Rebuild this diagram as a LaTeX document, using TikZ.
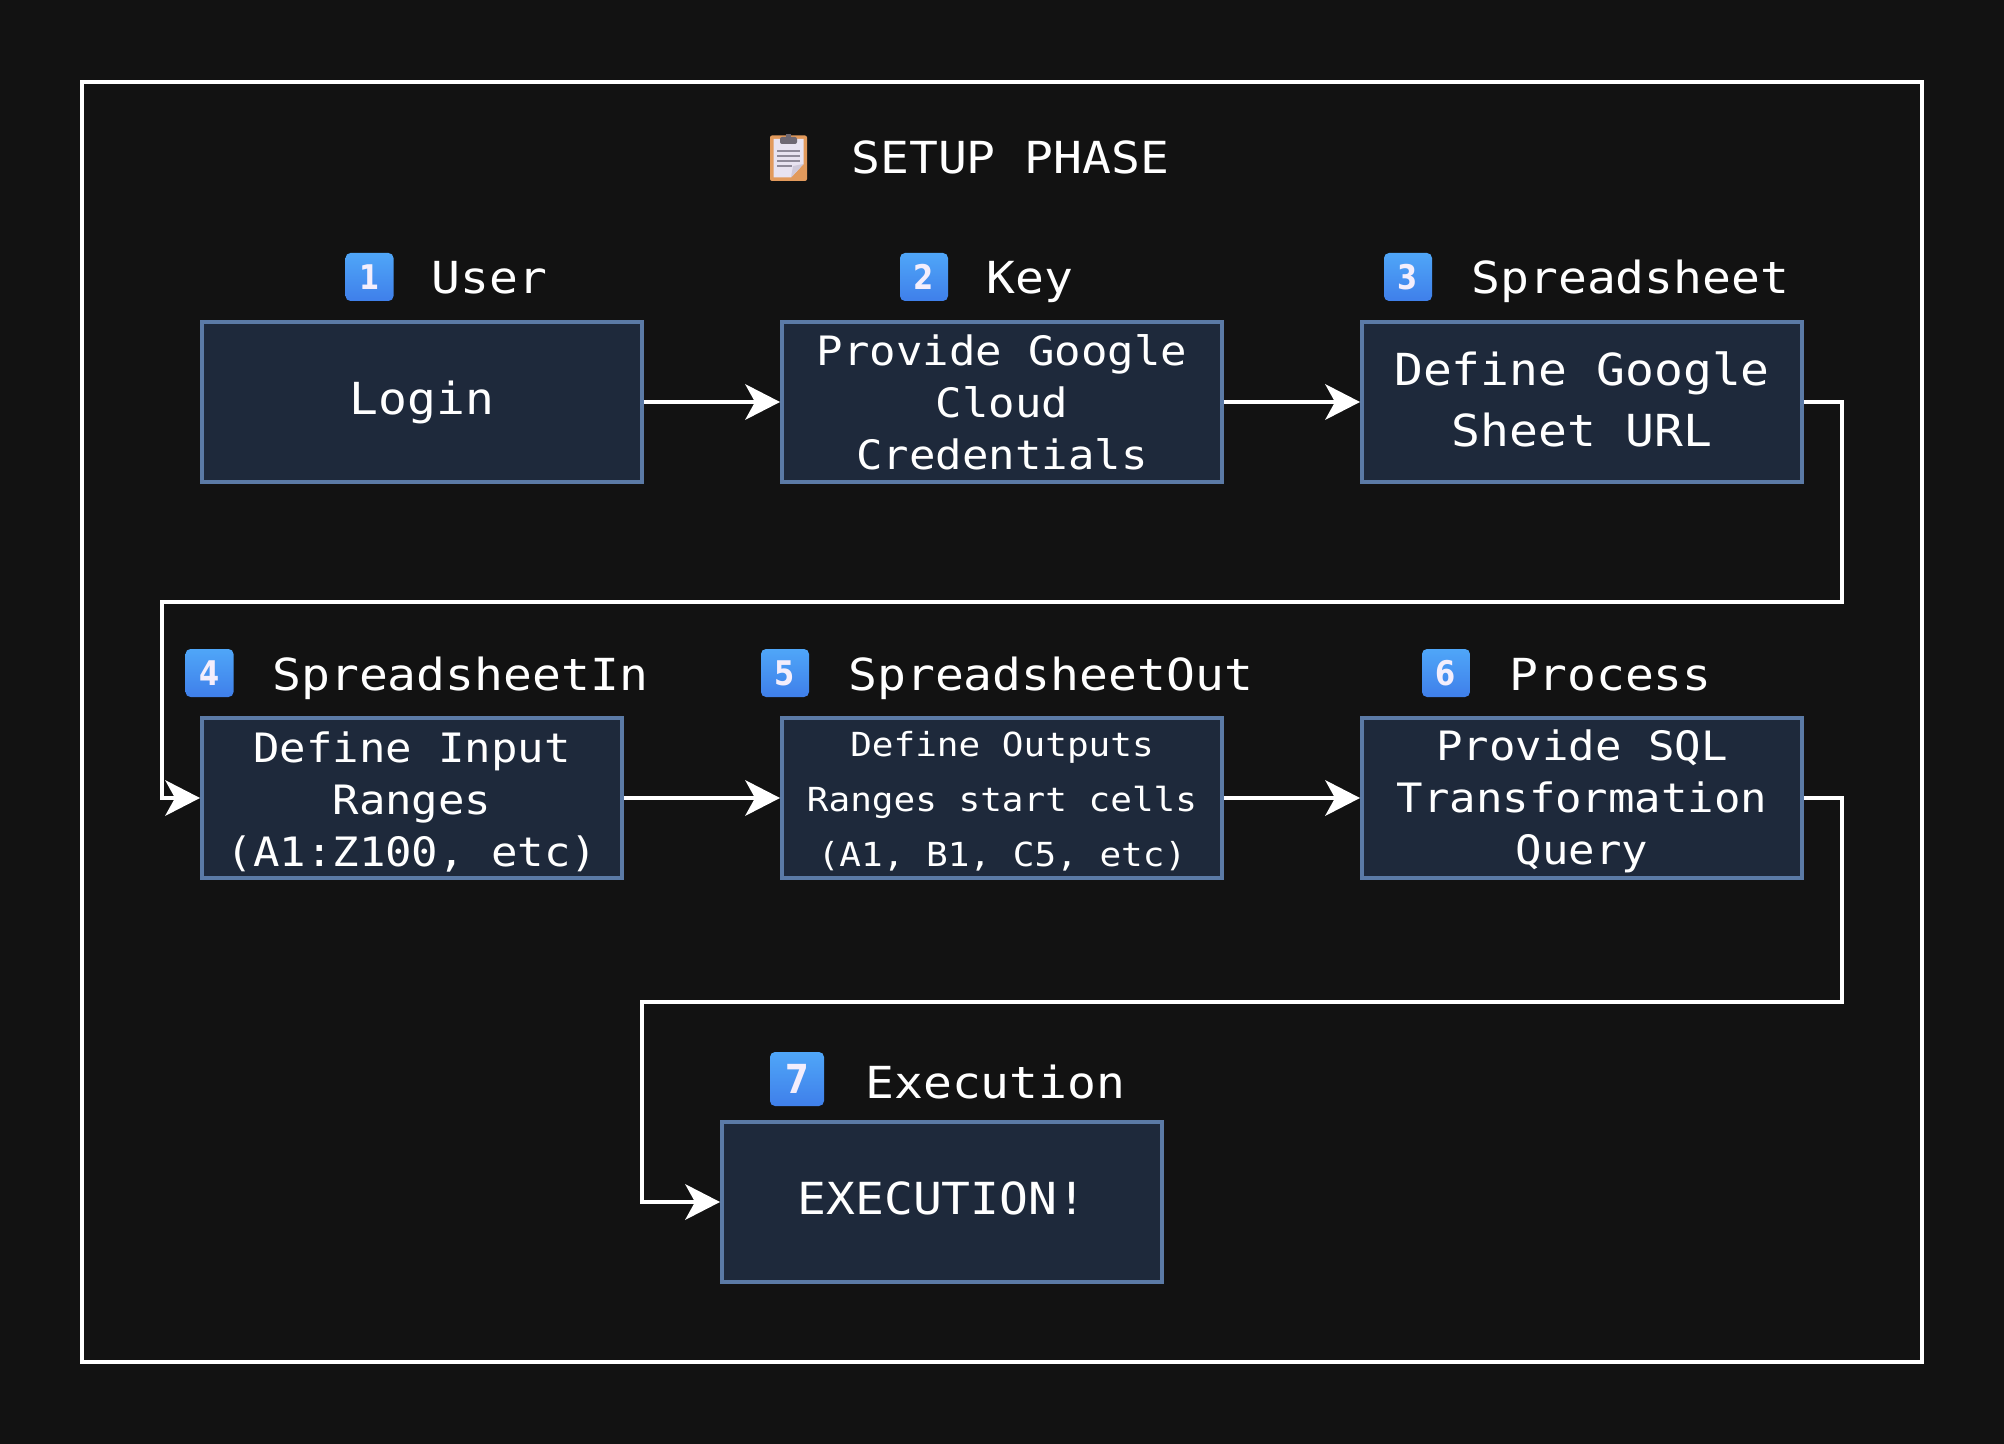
\documentclass[tikz,border=0pt]{standalone}
\usepackage{fontspec}
\usetikzlibrary{arrows.meta}
\newfontfamily\dmono[Scale=0.92,FakeStretch=1.087]{DejaVu Sans Mono}
\newfontfamily\dbold[Scale=1,FakeStretch=0.85]{DejaVu Sans Bold}
\definecolor{bgc}{HTML}{121212}
\definecolor{boxfill}{HTML}{1E293B}
\definecolor{boxline}{HTML}{5B7AA6}
\definecolor{keytop}{HTML}{4FA6F8}
\definecolor{keybot}{HTML}{3F7FEA}
\definecolor{digitc}{HTML}{F4EEFC}
\definecolor{clipo}{HTML}{E29A5C}
\definecolor{paper}{HTML}{E8E3F1}
\definecolor{fold}{HTML}{CFC9DA}
\definecolor{clipg}{HTML}{6E6873}
\definecolor{lineg}{HTML}{8F8A9A}
\newcommand{\sz}[2]{\fontsize{#1}{#2}\selectfont}
\tikzset{
  x=0.5pt,y=-0.5pt,
  boxn/.style={draw=boxline,fill=boxfill,line width=2pt,text=white,align=center,inner sep=0pt,
    minimum width=220pt,minimum height=80pt},
  fbig/.style={font=\dmono\sz{24}{30.5}},
  fmid/.style={font=\dmono\sz{22}{26}},
  fsmall/.style={font=\dmono\sz{18}{27.5}},
  title/.style={text=white,anchor=base west,inner sep=0pt,font=\dmono\sz{24}{29}},
  keycap/.style={rounded corners=2.5pt,top color=keytop,bottom color=keybot,text=digitc,
    minimum width=24pt,minimum height=24pt,inner sep=0pt,font=\dbold\sz{17}{20}},
  conn/.style={draw=white,line width=2pt,line join=miter,
    -{Stealth[length=17.5pt,width=18pt,inset=5pt,line width=0pt]}},
}
\begin{document}
\begin{tikzpicture}
\useasboundingbox (0,0) rectangle (2004,1444);
\fill[bgc] (0,0) rectangle (2004,1444);
\node[draw=white,line width=2pt,minimum width=920pt,minimum height=640pt,inner sep=0pt] (frame) at (1002,722) {};

% clipboard emoji
\fill[clipo,rounded corners=1pt] (770,135.5) rectangle (807,181);
\fill[paper] (773.5,139) -- (803.5,139) -- (803.5,164) -- (791,177.5) -- (773.5,177.5) -- cycle;
\fill[fold] (803.5,164) -- (791,177.5) -- (793,166) -- cycle;
\fill[clipg,rounded corners=1pt] (780,137) rectangle (797,144);
\fill[clipg] (786,134) rectangle (791,138);
\foreach \yy in {151,156,161} \fill[lineg] (777,\yy-0.7) rectangle (800,\yy+0.7);
\fill[lineg] (777,165.3) rectangle (792,166.7);
\node[title] (tsetup) at (851,174) {SETUP PHASE};

% row 1
\node[keycap] (k1) at (369.5,277) {1};
\node[title] (t1) at (431,294) {User};
\node[boxn,fbig] (b1) at (422,402) {Login};
\node[keycap] (k2) at (924,277) {2};
\node[title] (t2) at (986,294) {Key};
\node[boxn,fmid] (b2) at (1002,402) {Provide Google\\Cloud\\Credentials};
\node[keycap] (k3) at (1408,277) {3};
\node[title] (t3) at (1471,294) {Spreadsheet};
\node[boxn,fbig] (b3) at (1582,402) {Define Google\\Sheet URL\rule[-2.5pt]{0pt}{2.5pt}};

% row 2
\node[keycap] (k4) at (209.5,673) {4};
\node[title] (t4) at (272,690) {SpreadsheetIn};
\node[boxn,minimum width=210pt,fmid] (b4) at (412,798) {\rule{0pt}{19pt}Define Input\\Ranges\\(A1:Z100, etc)};
\node[keycap] (k5) at (785,673) {5};
\node[title] (t5) at (848,690) {SpreadsheetOut};
\node[boxn,fsmall] (b5) at (1002,798) {\rule{0pt}{16.1pt}Define Outputs\\Ranges start cells\\(A1, B1, C5, etc)};
\node[keycap] (k6) at (1446,673) {6};
\node[title] (t6) at (1509,690) {Process};
\node[boxn,fmid] (b6) at (1582,798) {\rule{0pt}{19pt}Provide SQL\\Transformation\\Query};

% row 3
\node[keycap,minimum width=27pt,minimum height=27pt,font=\dbold\sz{20}{24}] (k7) at (797,1079) {7};
\node[title] (t7) at (865,1098) {Execution};
\node[boxn,fbig] (b7) at (942,1202) {EXECUTION!\rule[-3.5pt]{0pt}{3.5pt}};

% connector bends
\coordinate (a1) at (1842,402);
\coordinate (a2) at (1842,602);
\coordinate (a3) at (162,602);
\coordinate (a4) at (162,798);
\coordinate (c1) at (1842,798);
\coordinate (c2) at (1842,1002);
\coordinate (c3) at (642,1002);
\coordinate (c4) at (642,1202);

\draw[conn] (b1) -- (b2);
\draw[conn] (b2) -- (b3);
\draw[conn] (b3.east) -- (a1) -- (a2) -- (a3) -- (a4) -- (b4.west);
\draw[conn] (b4) -- (b5);
\draw[conn] (b5) -- (b6);
\draw[conn] (b6.east) -- (c1) -- (c2) -- (c3) -- (c4) -- (b7.west);
\end{tikzpicture}
\end{document}
